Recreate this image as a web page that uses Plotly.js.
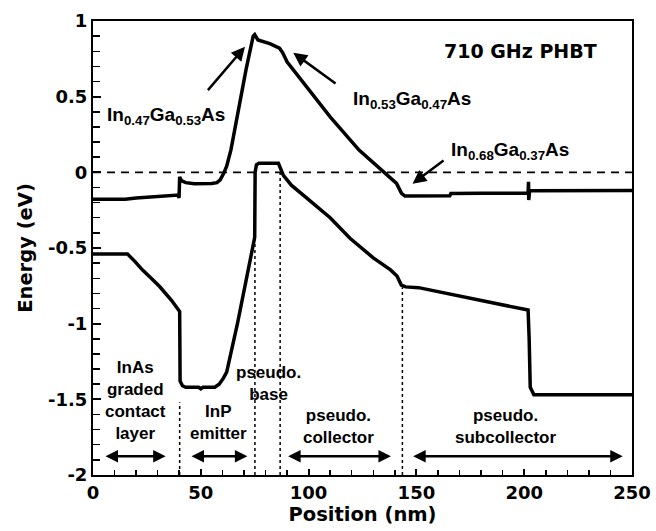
<!DOCTYPE html>
<html>
<head>
<meta charset="utf-8">
<script src="https://cdn.plot.ly/plotly-3.0.1.min.js"></script>
<style>html,body{margin:0;padding:0;background:#fff;}</style>
</head>
<body>
<div id="chart" style="width:656px;height:531px;"></div>
<script>
// Conduction band (upper curve)
const cbX = [0, 15, 20, 30, 39.6, 39.9, 40.2, 41, 43, 47, 50, 55, 57.5, 59, 60.5, 62, 64, 66, 68, 71, 74.3, 75, 76.5, 82, 86.5, 88, 90, 100, 110, 123.4, 134.6, 138, 140.8, 143.1, 144.7, 165.5, 166, 180, 201.8, 202, 202.1, 202.5, 250];
const cbY = [-0.178, -0.178, -0.17, -0.16, -0.15, -0.17, -0.03, -0.055, -0.068, -0.075, -0.075, -0.073, -0.068, -0.05, -0.01, 0.04, 0.15, 0.3, 0.46, 0.68, 0.9, 0.91, 0.875, 0.85, 0.82, 0.79, 0.73, 0.55, 0.367, 0.147, 0.01, -0.035, -0.073, -0.139, -0.157, -0.155, -0.14, -0.139, -0.138, -0.062, -0.183, -0.122, -0.12];

// Valence band (lower curve)
const vbX = [0, 16, 19.5, 23, 27, 31, 36.3, 39.5, 40.2, 40.4, 41.5, 43, 49, 50, 51, 56.5, 58.5, 60.5, 62, 67, 72, 74.3, 75, 75.2, 75.8, 77, 86, 88.3, 92, 100, 110, 119.2, 130, 138, 141, 143, 145, 151, 175, 201.8, 202.3, 202.8, 204.5, 250];
const vbY = [-0.54, -0.54, -0.59, -0.646, -0.70, -0.756, -0.844, -0.9, -0.92, -1.38, -1.41, -1.42, -1.42, -1.43, -1.42, -1.42, -1.40, -1.36, -1.32, -1.0, -0.66, -0.50, -0.43, 0.0, 0.05, 0.06, 0.06, -0.02, -0.085, -0.18, -0.30, -0.436, -0.565, -0.645, -0.685, -0.745, -0.757, -0.762, -0.83, -0.91, -1.1, -1.42, -1.47, -1.47];

// Fermi level reference (dashed)
const zeroX = [0, 250];
const zeroY = [0, 0];

// Layer boundaries (dotted)
const divX = [40.2, 75.1, 86.8, 143.5];
const divTop = [-1.52, -0.45, 0.02, -0.76];
const divBottom = -2;

// Region spans (double arrows) and labels
const spanStart = [5.1, 45, 89.8, 147.8];
const spanEnd = [33.7, 71.6, 138.2, 245.7];
const spanY = -1.876;
const regionText = ['InAs<br>graded<br>contact<br>layer', 'InP<br>emitter', 'pseudo.<br>base', 'pseudo.<br>collector', 'pseudo.<br>subcollector'];
const regionX = [19.5, 58.1, 81.6, 113.8, 191.5];
const regionY = [-1.51, -1.654, -1.395, -1.68, -1.68];

// Material labels and arrows
const matText = ['In<sub>0.47</sub>Ga<sub>0.53</sub>As', 'In<sub>0.53</sub>Ga<sub>0.47</sub>As', 'In<sub>0.68</sub>Ga<sub>0.37</sub>As'];
const matX = [33.8, 147.8, 193.4];
const matY = [0.37, 0.48, 0.14];
const arrowTailX = [52.7, 113.2, 163.3];
const arrowTailY = [0.533, 0.58, 0.086];
const arrowHeadX = [70.5, 92.9, 148.2];
const arrowHeadY = [0.83, 0.79, -0.075];

// Axis ticks
const yTickVals = [1, 0.5, 0, -0.5, -1, -1.5, -2];
const yTickText = ['1', '0.5', '0', '-0.5', '-1', '-1.5', '-2'];
const xTickVals = [0, 50, 100, 150, 200, 250];
const xTickText = ['0', '50', '100', '150', '200', '250'];

const chartTitle = '710 GHz PHBT';

const traces = [];
traces.push({x: zeroX, y: zeroY, mode: 'lines', line: {color: 'black', width: 1.6, dash: '8px,6px'}, hoverinfo: 'skip', showlegend: false});
for (let i = 0; i < divX.length; i++) {
  traces.push({x: [divX[i], divX[i]], y: [divBottom, divTop[i]], mode: 'lines', line: {color: 'black', width: 1.5, dash: 'dot'}, hoverinfo: 'skip', showlegend: false});
}
traces.push({x: cbX, y: cbY, mode: 'lines', line: {color: 'black', width: 3.5}, showlegend: false});
traces.push({x: vbX, y: vbY, mode: 'lines', line: {color: 'black', width: 3.5}, showlegend: false});

const annotations = [];
annotations.push({x: 198.1, y: 0.80, xref: 'x', yref: 'y', text: chartTitle, showarrow: false,
  font: {family: 'DejaVu Sans', size: 19, weight: 'bold', color: 'black'}, xanchor: 'center', yanchor: 'middle'});
for (let i = 0; i < matText.length; i++) {
  annotations.push({x: matX[i], y: matY[i], xref: 'x', yref: 'y', text: matText[i], showarrow: false,
    font: {family: 'Liberation Sans', size: 19, weight: 'bold', color: 'black'}, xanchor: 'center', yanchor: 'middle'});
  annotations.push({x: arrowHeadX[i], y: arrowHeadY[i], ax: arrowTailX[i], ay: arrowTailY[i], xref: 'x', yref: 'y', axref: 'x', ayref: 'y',
    text: '', showarrow: true, arrowhead: 2, arrowsize: 1.1, arrowwidth: 2.5, arrowcolor: 'black', standoff: 0});
}
for (let i = 0; i < spanStart.length; i++) {
  annotations.push({x: spanEnd[i], y: spanY, ax: spanStart[i], ay: spanY, xref: 'x', yref: 'y', axref: 'x', ayref: 'y',
    text: '', showarrow: true, arrowhead: 2, startarrowhead: 2, arrowside: 'end+start', arrowsize: 1, startarrowsize: 1, arrowwidth: 2.5, arrowcolor: 'black', standoff: 0, startstandoff: 0});
}
for (let i = 0; i < regionText.length; i++) {
  annotations.push({x: regionX[i], y: regionY[i], xref: 'x', yref: 'y', text: regionText[i], showarrow: false,
    font: {family: 'Liberation Sans', size: 17, weight: 'bold', color: 'black'}, xanchor: 'center', yanchor: 'middle', align: 'center'});
}

const axisFont = {family: 'DejaVu Sans', size: 18, weight: 'bold', color: 'black'};
const titleFont = {family: 'DejaVu Sans', size: 19.5, weight: 'bold', color: 'black'};

const layout = {
  width: 656, height: 531,
  margin: {l: 93, r: 24, t: 21, b: 56},
  paper_bgcolor: 'white', plot_bgcolor: 'white',
  showlegend: false,
  xaxis: {
    range: [0, 250], tickvals: xTickVals, ticktext: xTickText,
    ticks: 'inside', ticklen: 6, tickwidth: 2, tickcolor: 'black',
    minor: {dtick: 10, ticks: 'inside', ticklen: 5, tickwidth: 1.5, tickcolor: 'black', showgrid: false},
    showline: true, linecolor: 'black', linewidth: 2, mirror: true,
    showgrid: false, zeroline: false,
    tickfont: axisFont,
    title: {text: 'Position (nm)', font: titleFont, standoff: 0}
  },
  yaxis: {
    range: [-2, 1], tickvals: yTickVals, ticktext: yTickText,
    ticks: 'inside', ticklen: 8, tickwidth: 2, tickcolor: 'black',
    minor: {dtick: 0.1, ticks: 'inside', ticklen: 7, tickwidth: 1.5, tickcolor: 'black', showgrid: false},
    showline: true, linecolor: 'black', linewidth: 2, mirror: true,
    showgrid: false, zeroline: false,
    tickfont: axisFont,
    title: {text: 'Energy (eV)', font: titleFont, standoff: 10}
  },
  annotations: annotations
};

Plotly.newPlot('chart', traces, layout, {displayModeBar: false, staticPlot: true});
</script>
</body>
</html>
